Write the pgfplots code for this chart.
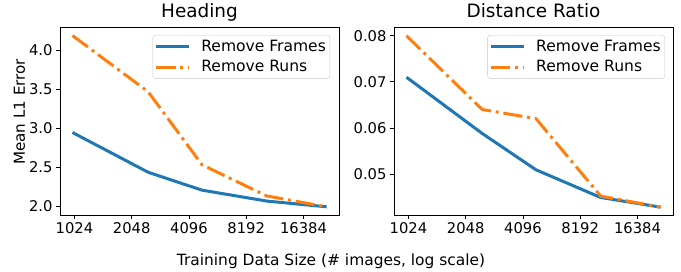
\documentclass[border=0pt]{standalone}
\usepackage{pgfplots}
\pgfplotsset{compat=1.18}
\usepackage{fontspec}
\setmainfont{DejaVu Sans}
\definecolor{tabblue}{HTML}{1F77B4}
\definecolor{taborange}{HTML}{FF7F0E}
\pgfplotsset{
  legend image code/.code={\path[draw=none,fill=none] (0bp,-2bp) rectangle (43bp,2bp); \draw[#1] (0bp,0bp) -- (33bp,0bp);},
}
\begin{document}
\begin{tikzpicture}
\useasboundingbox (0,0) rectangle (681bp,272bp);
\begin{axis}[
  at={(60bp,57bp)}, anchor=south west,
  scale only axis, width=279bp, height=188bp,
  xmode=log, log basis x=2, xmin=860, xmax=25200,
  xtick={1024,2048,4096,8192,16384},
  xticklabels={1024,2048,4096,8192,16384},
  tick align=outside, major tick length=4bp,
  tick style={black, line width=0.8bp},
  axis line style={line width=0.9bp},
  xtick pos=bottom, ytick pos=left,
  ticklabel style={font=\fontsize{14.8}{17}\selectfont},
  title style={font=\fontsize{18.5}{20}\selectfont, at={(0.5,1)}, anchor=base, yshift=4bp, inner sep=0pt},
  legend cell align=left,
  legend style={font=\fontsize{15.6}{18}\selectfont, anchor=north east, draw=black!22, rounded corners=2.5bp, inner xsep=2bp, inner ysep=3bp, row sep=3.5bp, nodes={inner sep=2bp}, at={(0.968,0.957)}},
  ymin=1.885, ymax=4.30,
  ytick={2.0,2.5,3.0,3.5,4.0},
  yticklabels={2.0,2.5,3.0,3.5,4.0},
  scaled y ticks=false,
  title={Heading},
  ylabel={Mean L1 Error},
  ylabel style={font=\fontsize{15.2}{17}\selectfont, at={(axis description cs:-0.145,0.548)}, anchor=center},
]
\addplot[tabblue, line width=3bp] coordinates {(1000,2.945) (2500,2.434) (4800,2.204) (10500,2.064) (21700,1.99)};
\addlegendentry{Remove Frames}
\addplot[taborange, line width=3bp, dash pattern=on 19.2bp off 4.8bp on 3bp off 4.8bp] coordinates {(1000,4.19) (2500,3.468) (4800,2.53) (10500,2.13) (21700,1.99)};
\addlegendentry{Remove Runs}
\end{axis}
\begin{axis}[
  at={(394bp,57bp)}, anchor=south west,
  scale only axis, width=279bp, height=188bp,
  xmode=log, log basis x=2, xmin=860, xmax=25200,
  xtick={1024,2048,4096,8192,16384},
  xticklabels={1024,2048,4096,8192,16384},
  tick align=outside, major tick length=4bp,
  tick style={black, line width=0.8bp},
  axis line style={line width=0.9bp},
  xtick pos=bottom, ytick pos=left,
  ticklabel style={font=\fontsize{14.8}{17}\selectfont},
  title style={font=\fontsize{18.5}{20}\selectfont, at={(0.5,1)}, anchor=base, yshift=4bp, inner sep=0pt},
  legend cell align=left,
  legend style={font=\fontsize{15.6}{18}\selectfont, anchor=north east, draw=black!22, rounded corners=2.5bp, inner xsep=2bp, inner ysep=3bp, row sep=3.5bp, nodes={inner sep=2bp}, at={(0.971,0.957)}},
  ymin=0.0411, ymax=0.0819,
  ytick={0.05,0.06,0.07,0.08},
  yticklabels={0.05,0.06,0.07,0.08},
  scaled y ticks=false,
  title={Distance Ratio},
]
\addplot[tabblue, line width=3bp] coordinates {(1000,0.0710) (2500,0.0588) (4800,0.0509) (10500,0.0449) (21700,0.0428)};
\addlegendentry{Remove Frames}
\addplot[taborange, line width=3bp, dash pattern=on 19.2bp off 4.8bp on 3bp off 4.8bp] coordinates {(1000,0.0800) (2500,0.0640) (4800,0.0620) (10500,0.0452) (21700,0.0428)};
\addlegendentry{Remove Runs}
\end{axis}
\node[font=\fontsize{15.5}{17}\selectfont, anchor=base] at (331bp,7bp) {Training Data Size (\# images, log scale)};
\end{tikzpicture}
\end{document}
